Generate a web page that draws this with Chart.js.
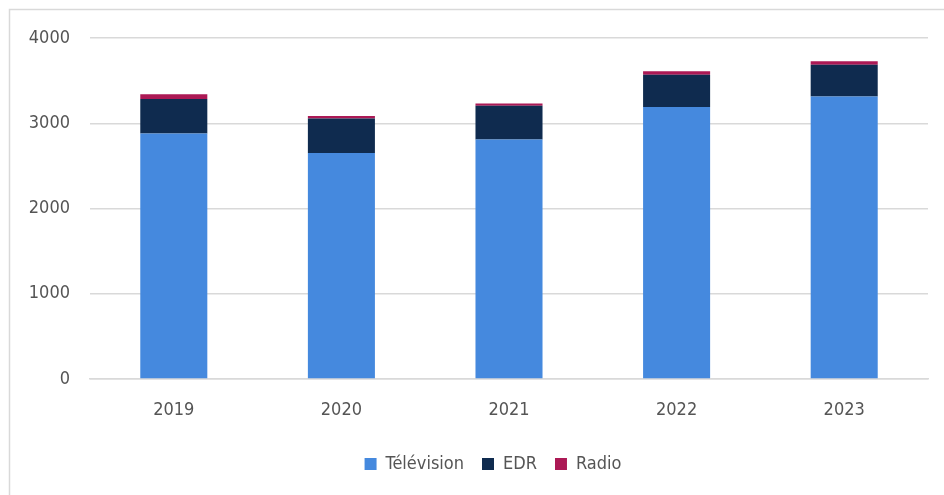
<!DOCTYPE html>
<html>
<head>
<meta charset="utf-8">
<script src="https://cdn.jsdelivr.net/npm/chart.js@4"></script>
<style>
  html, body { margin: 0; padding: 0; background: #ffffff; }
  #wrap { width: 944px; height: 495px; position: relative; }
</style>
</head>
<body>
<div id="wrap"><canvas id="c" width="944" height="495"></canvas></div>
<script>
const categories = ["2019", "2020", "2021", "2022", "2023"];
const television = [2880, 2650, 2810, 3190, 3315];
const edr = [405, 405, 395, 380, 370];
const radio = [55, 30, 27, 40, 43];
const yTicks = [0, 1000, 2000, 3000, 4000];

const FONT = "'DejaVu Sans Condensed', 'Liberation Sans Narrow', sans-serif";
const TEXT = "#555555";
const GRID = "#d9d9d9";

const framePlugin = {
  id: 'frame',
  afterLayout(chart) {
    // nudge the legend slightly right and down, as in the reference
    if (chart.legend) {
      chart.legend.left += 20; chart.legend.right += 20;
      chart.legend.top += 3; chart.legend.bottom += 3;
    }
  },
  afterDraw(chart) {
    const ctx = chart.ctx;
    ctx.save();
    ctx.strokeStyle = GRID;
    ctx.lineWidth = 1.5;
    ctx.beginPath();
    ctx.moveTo(9.5, chart.height);
    ctx.lineTo(9.5, 9.5);
    ctx.lineTo(chart.width, 9.5);
    ctx.stroke();
    ctx.restore();
  }
};

new Chart(document.getElementById('c'), {
  type: 'bar',
  data: {
    labels: categories,
    datasets: [
      { label: 'Télévision', data: television, backgroundColor: '#4589DE' },
      { label: 'EDR', data: edr, backgroundColor: '#0F2B4F' },
      { label: 'Radio', data: radio, backgroundColor: '#AC1955' }
    ]
  },
  options: {
    responsive: false,
    animation: false,
    layout: { padding: { left: 18, right: 16, top: 38, bottom: 15 } },
    datasets: { bar: { barPercentage: 0.4, categoryPercentage: 1.0 } },
    plugins: {
      legend: {
        position: 'bottom',
        labels: {
          boxWidth: 12, boxHeight: 12, padding: 18,
          color: TEXT, font: { family: FONT, size: 18 }
        }
      },
      tooltip: { enabled: false }
    },
    scales: {
      x: {
        stacked: true,
        grid: { display: false, drawTicks: false },
        border: { display: true, color: GRID, width: 1.5 },
        ticks: { color: TEXT, font: { family: FONT, size: 18 }, padding: 21 },
        afterFit(s) { s.height = 55; }
      },
      y: {
        stacked: true,
        min: 0, max: 4000,
        afterBuildTicks(s) { s.ticks = yTicks.map(v => ({ value: v })); },
        grid: { color: GRID, lineWidth: 1.5, drawTicks: false },
        border: { display: false },
        ticks: {
          color: TEXT, font: { family: FONT, size: 18 }, padding: 20,
          callback: (v) => String(v)
        },
        afterFit(s) { s.width = 72; }
      }
    }
  },
  plugins: [framePlugin]
});
</script>
</body>
</html>
